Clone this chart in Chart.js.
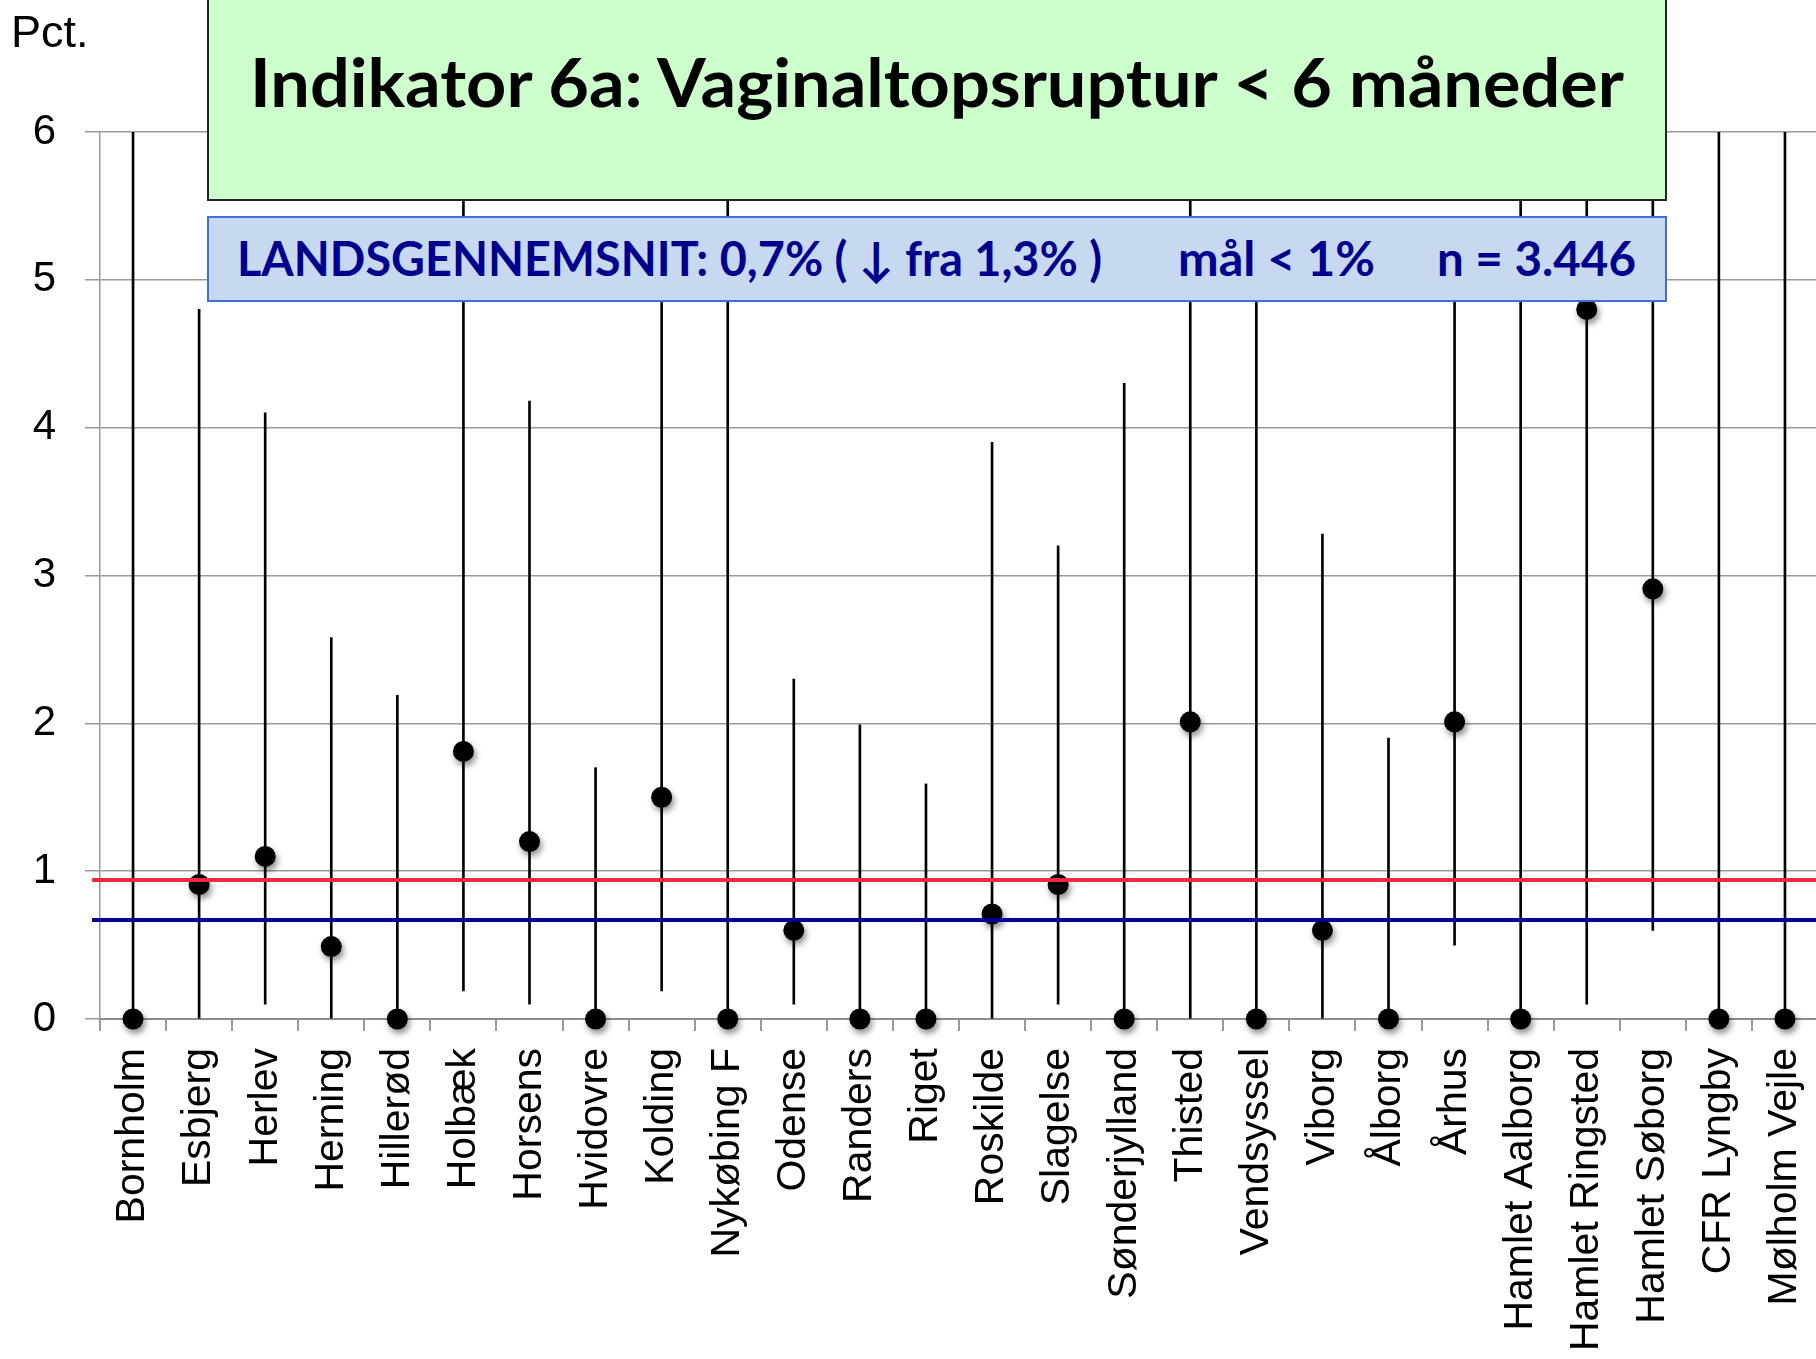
<!DOCTYPE html>
<html>
<head>
<meta charset="utf-8">
<script src="https://cdn.jsdelivr.net/npm/chart.js@4.4.1/dist/chart.umd.min.js"></script>
<style>
  html, body { margin: 0; padding: 0; background: #fff; overflow: hidden; width: 1816px; height: 1359px; }
  #wrap { position: relative; width: 1900px; height: 1359px; }
  #chart { position: absolute; left: 0; top: 0; }
  .box { position: absolute; box-sizing: border-box; }
  #titleBox { left: 207px; top: -10px; width: 1460px; height: 211px; background: #ccffcc; border: 2px solid #222; }
  #avgBox { left: 207px; top: 216px; width: 1460px; height: 86px; background: #c6d9f1; border: 2px solid #3f6fd8; }
  .txt { position: absolute; white-space: nowrap; font-family: Lato, "Open Sans", sans-serif; font-weight: bold; line-height: 1; transform-origin: 0 0; }
  #pct { position: absolute; left: 11px; top: 9px; font-family: "Liberation Sans", Arial, sans-serif; font-size: 45px; line-height: 45px; }
</style>
</head>
<body>
<div id="wrap">
  <canvas id="chart" width="1818" height="1359"></canvas>
  <div id="pct">Pct.</div>
  <div class="box" id="titleBox"></div>
  <div class="box" id="avgBox"></div>
  <span class="txt" id="t_title" style="color:#000">Indikator 6a: Vaginaltopsruptur &lt; 6 måneder</span>
  <span class="txt" id="t_avg" style="color:#00008f">LANDSGENNEMSNIT: 0,7% ( ↓ fra 1,3% )</span>
  <span class="txt" id="t_goal" style="color:#00008f">mål &lt; 1%</span>
  <span class="txt" id="t_n" style="color:#00008f">n = 3.446</span>
</div>
<script>
// afdelinger
var categories = ["Bornholm", "Esbjerg", "Herlev", "Herning", "Hillerød", "Holbæk", "Horsens",
  "Hvidovre", "Kolding", "Nykøbing F", "Odense", "Randers", "Riget", "Roskilde", "Slagelse",
  "Sønderjylland", "Thisted", "Vendsyssel", "Viborg", "Ålborg", "Århus", "Hamlet Aalborg",
  "Hamlet Ringsted", "Hamlet Søborg", "CFR Lyngby", "Mølholm Vejle"];

// andel i pct. og konfidensinterval
var rates  = [0, 0.91, 1.10, 0.49, 0, 1.81, 1.20, 0, 1.50, 0, 0.60, 0, 0, 0.71, 0.91,
  0, 2.01, 0, 0.60, 0, 2.01, 0, 4.80, 2.91, 0, 0];
var ciLow  = [0, 0, 0.10, 0, 0, 0.19, 0.10, 0, 0.19, 0, 0.10, 0, 0, 0, 0.10,
  0, 0, 0, 0, 0, 0.50, 0, 0.10, 0.60, 0, 0];
var ciHigh = [6, 4.80, 4.10, 2.58, 2.19, 6, 4.18, 1.70, 5.10, 6, 2.30, 1.99, 1.59, 3.90, 3.20,
  4.30, 6, 5.10, 3.28, 1.90, 5.10, 6, 6, 6, 6, 6];

var yTicks = [0, 1, 2, 3, 4, 5, 6];
var target = 0.94;      // mål < 1%
var nationalAvg = 0.67; // landsgennemsnit

var ranges = [];
for (var i = 0; i < categories.length; i++) {
  ranges.push([ciLow[i], ciHigh[i]]);
}

// skygge under punkterne
var dotShadow = {
  id: 'dotShadow',
  beforeDatasetDraw: function(chart, args) {
    if (args.index !== 1) return;
    var ctx = chart.ctx;
    ctx.save();
    ctx.shadowColor = 'rgba(0,0,0,0.45)';
    ctx.shadowBlur = 6;
    ctx.shadowOffsetX = 2;
    ctx.shadowOffsetY = 4;
  },
  afterDatasetDraw: function(chart, args) {
    if (args.index !== 1) return;
    chart.ctx.restore();
  }
};

// mål og landsgennemsnit
var refLines = {
  id: 'refLines',
  afterDatasetsDraw: function(chart) {
    var ctx = chart.ctx;
    var area = chart.chartArea;
    var y = chart.scales.y;
    var lines = [[target, '#f02a3c'], [nationalAvg, '#000099']];
    ctx.save();
    lines.forEach(function(l) {
      var py = y.getPixelForValue(l[0]);
      ctx.beginPath();
      ctx.strokeStyle = l[1];
      ctx.lineWidth = 4;
      ctx.moveTo(area.left - 8, py);
      ctx.lineTo(area.right, py);
      ctx.stroke();
    });
    ctx.restore();
  }
};

var context = document.getElementById('chart').getContext('2d');
var chart = new Chart(context, {
  type: 'bar',
  data: {
    labels: categories,
    datasets: [{
      data: ranges,
      backgroundColor: '#000',
      barThickness: 2,
      grouped: false,
      order: 2
    }, {
      type: 'line',
      data: rates,
      showLine: false,
      clip: false,
      pointRadius: 10.5,
      pointBackgroundColor: '#000',
      pointBorderWidth: 0,
      order: 1
    }]
  },
  options: {
    responsive: false,
    maintainAspectRatio: false,
    animation: false,
    devicePixelRatio: 1,
    layout: { autoPadding: false, padding: { top: 132, left: 0, right: 0, bottom: 0 } },
    plugins: { legend: { display: false }, tooltip: { enabled: false } },
    scales: {
      x: {
        offset: true,
        grid: { display: true, offset: true, drawOnChartArea: false, color: '#999', lineWidth: 2, tickLength: 12 },
        border: { display: true, color: '#8c8c8c', width: 2 },
        ticks: {
          autoSkip: false, maxRotation: 90, minRotation: 90, padding: 17,
          color: '#000', font: { family: 'Liberation Sans', size: 41 }
        },
        afterFit: function(scale) {
          scale.height = 340;
          scale.paddingLeft = 0;
          scale.paddingRight = 0;
        }
      },
      y: {
        min: 0, max: 6,
        afterBuildTicks: function(scale) {
          scale.ticks = yTicks.map(function(v) { return { value: v }; });
        },
        grid: { color: '#999', lineWidth: 1.5, tickLength: 15 },
        border: { display: true, color: '#999', width: 1.5 },
        ticks: {
          padding: 29, color: '#000',
          font: { family: 'Liberation Sans', size: 42 }
        },
        afterFit: function(scale) {
          scale.width = 100;
          scale.paddingTop = 0;
          scale.paddingBottom = 0;
        }
      }
    }
  },
  plugins: [dotShadow, refLines]
});

// tekst i boksene: højde efter versalhøjde, bredde tilpasset
function placeText(id, left, right, baseline, size) {
  var el = document.getElementById(id);
  el.style.fontSize = size + 'px';
  var w = el.getBoundingClientRect().width;
  var s = (right - left) / w;
  el.style.left = left + 'px';
  el.style.top = (baseline - 0.887 * size) + 'px';
  el.style.transform = 'scaleX(' + s + ')';
}
placeText('t_title', 250, 1624, 107, 67);
placeText('t_avg', 237, 1102, 277, 47);
placeText('t_goal', 1178, 1375, 277, 47);
placeText('t_n', 1437, 1636, 277, 47);
</script>
</body>
</html>
